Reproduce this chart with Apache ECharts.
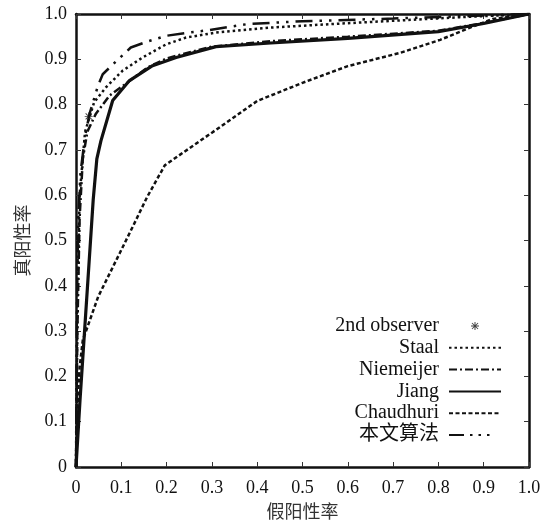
<!DOCTYPE html>
<html>
<head>
<meta charset="utf-8">
<script src="https://cdn.jsdelivr.net/npm/echarts@6/dist/echarts.min.js"></script>
<style>html,body{margin:0;padding:0;background:#fff}#c{width:543px;height:520px}</style>
</head>
<body>
<div id="c"></div>
<script>
const seriesNames = ['2nd observer', 'Staal', 'Niemeijer', 'Jiang', 'Chaudhuri', '本文算法'];
const secondObserver = [[0.028, 0.774]];
const staal = [[0,0],[0.003,0.35],[0.008,0.6],[0.02,0.74],[0.04,0.805],[0.066,0.838],[0.103,0.875],[0.147,0.904],[0.199,0.933],[0.243,0.948],[0.309,0.959],[0.43,0.97],[0.55,0.977],[0.7,0.985],[0.85,0.993],[1,1]];
const niemeijer = [[0,0],[0.003,0.3],[0.008,0.55],[0.015,0.68],[0.025,0.74],[0.044,0.78],[0.074,0.82],[0.11,0.846],[0.158,0.882],[0.2,0.902],[0.3,0.928],[0.43,0.94],[0.6,0.95],[0.8,0.963],[0.9,0.98],[1,1]];
const jiang = [[0,0],[0.009,0.15],[0.038,0.59],[0.046,0.68],[0.055,0.72],[0.081,0.809],[0.118,0.853],[0.169,0.886],[0.221,0.904],[0.309,0.928],[0.43,0.936],[0.6,0.946],[0.8,0.961],[0.9,0.979],[1,1]];
const chaudhuri = [[0,0],[0.004,0.15],[0.008,0.22],[0.015,0.28],[0.049,0.376],[0.097,0.473],[0.125,0.53],[0.157,0.596],[0.196,0.666],[0.3,0.738],[0.4,0.808],[0.5,0.848],[0.6,0.885],[0.715,0.914],[0.804,0.943],[0.87,0.97],[0.92,0.989],[1,1]];
const proposed = [[0,0],[0.002,0.35],[0.005,0.55],[0.01,0.65],[0.02,0.73],[0.03,0.78],[0.048,0.84],[0.059,0.867],[0.088,0.895],[0.121,0.926],[0.16,0.94],[0.2,0.952],[0.25,0.959],[0.29,0.964],[0.38,0.978],[0.5,0.984],[0.7,0.99],[0.85,0.995],[1,1]];
const xTicks = [0,0.1,0.2,0.3,0.4,0.5,0.6,0.7,0.8,0.9,1.0];
const yTicks = [0,0.1,0.2,0.3,0.4,0.5,0.6,0.7,0.8,0.9,1.0];
const xName = '假阳性率';
const yName = '真阳性率';

const asterisk = 'path://M4.4,0L5.6,0L5.6,10L4.4,10Z M0,4.4L10,4.4L10,5.6L0,5.6Z M0.8,1.6L1.6,0.8L9.2,8.4L8.4,9.2Z M8.4,0.8L9.2,1.6L1.6,9.2L0.8,8.4Z';
const serif = '"Liberation Serif", "Noto Sans CJK SC", serif';
const fmt = v => v === 0 ? '0' : v.toFixed(1);
const axisBase = {
  type: 'value', min: xTicks[0], max: xTicks[xTicks.length - 1], interval: 0.1,
  axisLine: { show: true, onZero: false, lineStyle: { color: '#111', width: 2.5 } },
  axisTick: { show: true, inside: true, length: 5, lineStyle: { color: '#333', width: 1 } },
  splitLine: { show: false }
};
const hiddenDot = { color: 'rgba(0,0,0,0)', opacity: 0, borderWidth: 0 };
const chart = echarts.init(document.getElementById('c'), null, { renderer: 'canvas' });
chart.setOption({
  backgroundColor: '#fff',
  animation: false,
  grid: { left: 76, right: 14, top: 14, bottom: 53, outerBoundsMode: 'none', containLabel: false },
  legend: {
    orient: 'vertical', align: 'right', right: 41, top: 316, padding: 0,
    itemWidth: 52, itemHeight: 8, itemGap: 1.8,
    formatter: n => n + ' ',
    textStyle: { fontFamily: serif, fontSize: 20, color: '#111', lineHeight: 18 },
    data: seriesNames.map((n, i) => {
      if (i === 0) return { name: n };
      if (i === 5) return { name: n, itemStyle: hiddenDot, lineStyle: { type: [15, 6, 2.5, 6, 2.5, 6, 2.5, 12] } };
      return { name: n, itemStyle: hiddenDot };
    })
  },
  xAxis: [
    Object.assign({}, axisBase, {
      position: 'bottom', name: xName, nameLocation: 'middle', nameGap: 34,
      nameTextStyle: { fontFamily: '"Noto Sans CJK SC"', fontSize: 18, color: '#333' },
      axisLabel: { formatter: fmt, margin: 12, fontFamily: serif, fontSize: 18, color: '#111' }
    }),
    Object.assign({}, axisBase, { position: 'top', axisLabel: { show: false } })
  ],
  yAxis: [
    Object.assign({}, axisBase, {
      min: yTicks[0], max: yTicks[yTicks.length - 1],
      position: 'left', name: yName, nameLocation: 'middle', nameGap: 45,
      nameTextStyle: { fontFamily: '"Noto Sans CJK SC"', fontSize: 18, color: '#333' },
      axisLabel: { formatter: fmt, margin: 9, fontFamily: serif, fontSize: 18, color: '#111' }
    }),
    Object.assign({}, axisBase, { min: yTicks[0], max: yTicks[yTicks.length - 1], position: 'right', axisLabel: { show: false } })
  ],
  series: [
    { name: seriesNames[0], type: 'scatter', data: secondObserver, symbol: asterisk, symbolSize: 8, itemStyle: { color: '#111' }, z: 5 },
    { name: seriesNames[1], type: 'line', data: staal, symbol: 'none', lineStyle: { color: '#111', width: 2.5, type: [2.5, 3] }, itemStyle: { color: '#111' } },
    { name: seriesNames[2], type: 'line', data: niemeijer, symbol: 'none', lineStyle: { color: '#111', width: 2.5, type: [8, 3, 2, 3] }, itemStyle: { color: '#111' } },
    { name: seriesNames[3], type: 'line', data: jiang, symbol: 'none', lineStyle: { color: '#111', width: 3.2 }, itemStyle: { color: '#111' } },
    { name: seriesNames[4], type: 'line', data: chaudhuri, symbol: 'none', lineStyle: { color: '#111', width: 2.5, type: [4, 2.5] }, itemStyle: { color: '#111' } },
    { name: seriesNames[5], type: 'line', data: proposed, symbol: 'none', lineStyle: { color: '#111', width: 2.5, type: [17, 7, 2.5, 7, 2.5, 7] }, itemStyle: { color: '#111' } }
  ]
});
</script>
</body>
</html>
